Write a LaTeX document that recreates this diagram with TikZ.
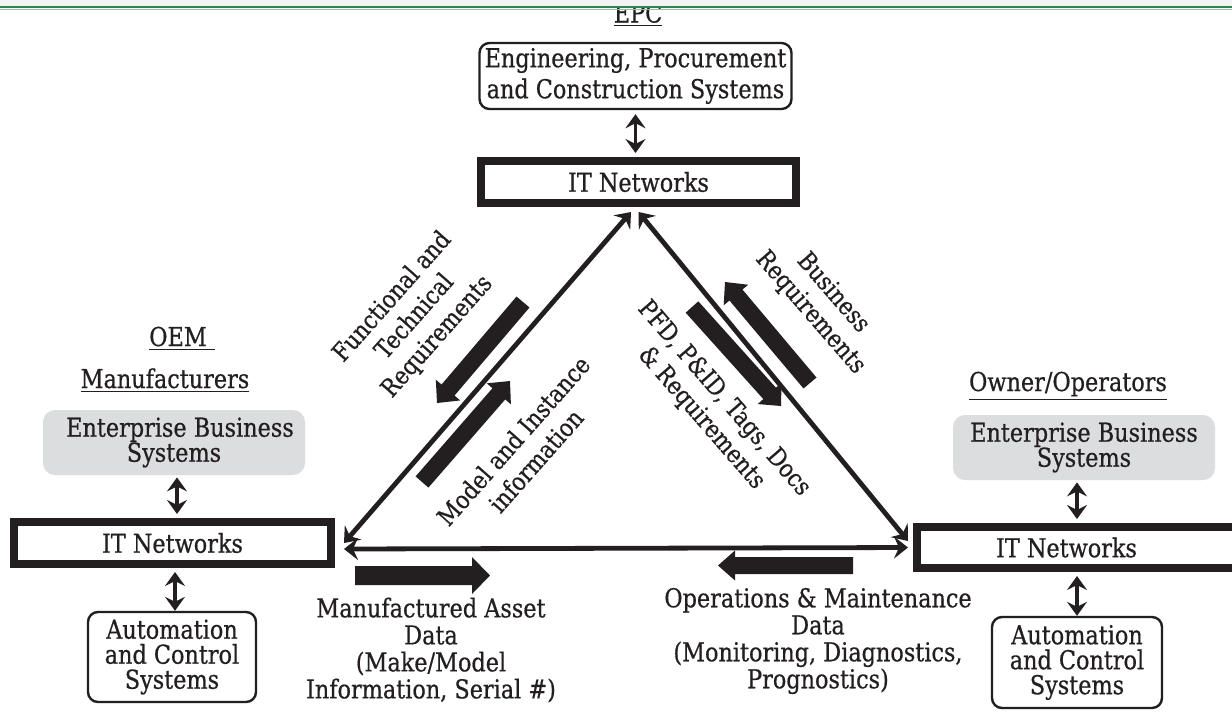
\documentclass[tikz,border=0pt]{standalone}
\usepackage{fontspec}
\setmainfont{DejaVu Serif}[FakeStretch=0.86,FakeBold=0.6]
\usetikzlibrary{arrows.meta,calc}
\definecolor{ink}{RGB}{35,31,32}
\definecolor{sysgray}{RGB}{220,221,223}
\definecolor{bandgreen}{RGB}{52,128,84}
\definecolor{bandlight}{RGB}{140,195,155}
\definecolor{bandgray}{RGB}{243,243,243}
\newcommand\blockarrow[5]{%
  \coordinate (ba) at ($(#2)!#5!(#1)$);
  \fill[ink] ($(#1)!#3!90:(#2)$) -- ($(ba)!#3!90:(#2)$) -- ($(ba)!#4!90:(#2)$) -- (#2)
    -- ($(ba)!#4!-90:(#2)$) -- ($(ba)!#3!-90:(#2)$) -- ($(#1)!#3!-90:(#2)$) -- cycle;}
\tikzset{
  txt/.style={font=\fontsize{13pt}{12.5pt}\selectfont, text=ink},
  itbox/.style={txt, draw=ink, line width=4pt, inner sep=0pt, fill=white},
  sysbox/.style={txt, draw=ink, line width=1.2pt, rounded corners=5pt, align=center, inner sep=0pt},
  graybox/.style={txt, fill=sysgray, rounded corners=6pt, align=center, inner sep=0pt},
  title/.style={txt, anchor=base, inner sep=0pt},
  lbl/.style={align=center, text=ink},
  dbl/.style={{Stealth[length=7pt,width=10pt,inset=2.5pt]}-{Stealth[length=7pt,width=10pt,inset=2.5pt]}, line width=1.8pt, draw=ink},
  tri/.style={{Stealth[length=7pt,width=11pt,inset=2.5pt]}-{Stealth[length=7pt,width=11pt,inset=2.5pt]}, line width=2.4pt, draw=ink},
}
\begin{document}
\begin{tikzpicture}[x=0.5pt,y=-0.5pt]
\useasboundingbox (0,0) rectangle (1232,725);
\fill[white] (0,0) rectangle (1232,725);

% titles
\node[title] (tEPC) at (638,22.5) {\underline{EPC}};
\node[title] (tOEM) at (182,346) {\underline{OEM\hspace{4pt}}};
\node[title] (tMan) at (165,388) {\underline{Manufacturers}};
\node[title] (tOwn) at (1068,391) {\underline{Owner/Operators}};

% EPC system
\node[sysbox, font=\fontsize{13pt}{15.5pt}\selectfont, minimum width=156pt, minimum height=33pt] (epc) at (635.5,76)
  {Engineering, Procurement\\and Construction Systems};

% IT network boxes
\node[itbox, minimum width=157.5pt, minimum height=21pt] (itT) at (638.5,182) {IT Networks};
\node[itbox, minimum width=158.5pt, minimum height=21pt] (itL) at (172.5,543) {IT Networks};
\node[itbox, minimum width=159.5pt, minimum height=20.5pt] (itR) at (1076.5,547.5) {\hspace{-10pt}IT Networks};

% enterprise business systems
\node[graybox, minimum width=131pt, minimum height=32.5pt] (gL) at (174,442.5) {\hspace{6pt}Enterprise Business\\Systems};
\node[graybox, minimum width=131pt, minimum height=32.5pt] (gR) at (1084,447.5) {Enterprise Business\\Systems};

% automation systems
\node[sysbox, minimum width=84pt, minimum height=45pt] (aL) at (172,657) {Automation\\and Control\\Systems};
\node[sysbox, minimum width=85pt, minimum height=45.5pt] (aR) at (1077,662.5) {Automation\\and Control\\Systems};

% vertical double arrows
\draw[dbl] ([yshift=-2pt]epc.south) -- ([yshift=2pt]epc.south |- itT.north);
\draw[dbl] ([xshift=1.5pt,yshift=-1pt]gL.south) -- ([xshift=1.5pt,yshift=2pt]gL.south |- itL.north);
\draw[dbl] ([xshift=1.5pt,yshift=-2pt]aL.north |- itL.south) -- ([xshift=1.5pt]aL.north);
\draw[dbl] ([yshift=-1pt]aR.north |- gR.south) -- ([yshift=2pt]aR.north |- itR.north);
\draw[dbl] ([yshift=-2pt]aR.north |- itR.south) -- (aR.north);

% triangle
\draw[tri] ([xshift=4.5pt]itL.east) -- ([xshift=-3.75pt,yshift=-2.5pt]itT.south);
\draw[tri] ([yshift=-2.5pt]itT.south) -- ([xshift=-2.5pt,yshift=3.25pt]itR.west);
\draw[tri] ([xshift=4.5pt,yshift=-3pt]itL.east) -- ([xshift=-2.5pt]itR.west);

% block arrows
\coordinate (b1t) at (523,302); \coordinate (b1h) at (437,403);
\coordinate (b2t) at (422,482); \coordinate (b2h) at (510,381);
\coordinate (b3t) at (810,383); \coordinate (b3h) at (725,282);
\coordinate (b4t) at (692,307); \coordinate (b4h) at (781,406);
\coordinate (b5t) at (355,575.5); \coordinate (b5h) at (490,575.5);
\coordinate (b6t) at (853,565.5); \coordinate (b6h) at (718,565.5);
\blockarrow{b1t}{b1h}{4.25pt}{8pt}{8.5pt}
\blockarrow{b2t}{b2h}{4.25pt}{8pt}{8.5pt}
\blockarrow{b3t}{b3h}{4.25pt}{8pt}{8.5pt}
\blockarrow{b4t}{b4h}{4.25pt}{8pt}{8.5pt}
\blockarrow{b5t}{b5h}{4.75pt}{9.25pt}{9pt}
\blockarrow{b6t}{b6h}{4.25pt}{7.5pt}{8.5pt}

% flow labels
\node[lbl, font=\fontsize{12.5pt}{15pt}\selectfont, rotate=48.5] (l1) at (415,317) {Functional and\\Technical\\Requirements};
\node[lbl, font=\fontsize{12.5pt}{15pt}\selectfont, rotate=48.5] (l2) at (524.5,450.5) {Model and Instance\\information};
\node[lbl, font=\fontsize{12.5pt}{15pt}\selectfont, rotate=-49] (l3) at (821.5,303) {Business\\Requirements};
\node[lbl, font=\fontsize{12.5pt}{15pt}\selectfont, rotate=-49] (l4) at (712.5,408.5) {PFD, P\&ID, Tags, Docs\\\& Requirements};
\node[lbl, font=\fontsize{13pt}{13.5pt}\selectfont] (l5) at (431,650) {Manufactured Asset\\Data\\(Make/Model\\Information, Serial \#)};
\node[lbl, font=\fontsize{13pt}{13.5pt}\selectfont] (l6) at (818,641) {Operations \& Maintenance\\Data\\(Monitoring, Diagnostics,\\Prognostics)};

% top band
\fill[bandgray] (0,0) rectangle (1232,6);
\draw[bandgreen, line width=1.2pt] (0,7) -- (1232,7);
\draw[bandlight, line width=0.6pt] (0,9.5) -- (1232,9.5);
\end{tikzpicture}
\end{document}
